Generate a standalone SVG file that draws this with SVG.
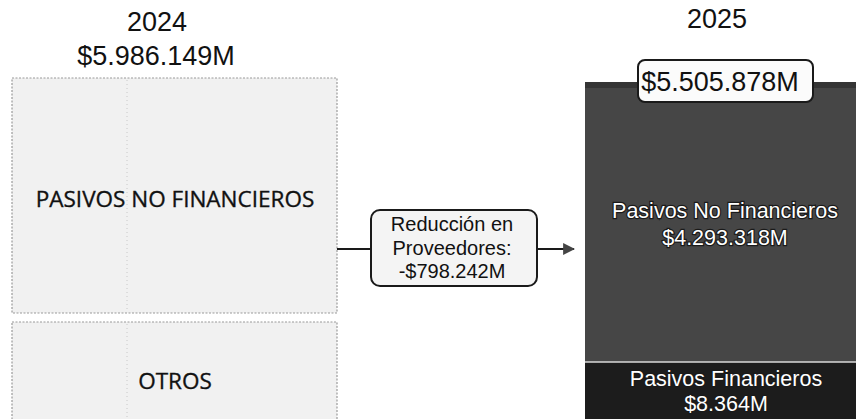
<svg xmlns="http://www.w3.org/2000/svg" width="856" height="419" viewBox="0 0 856 419">
<defs>
<style>
.hdr{font-family:"Liberation Sans",Arial,sans-serif;font-size:27px;fill:#111;text-anchor:middle}
.lbox{fill:#f1f1f1;stroke:#9a9a9a;stroke-width:1.2;stroke-dasharray:2 1.5}
.cal{font-family:"Open Sans","Noto Sans",sans-serif;font-size:22.5px;fill:#111;text-anchor:middle;stroke:#111;stroke-width:0.35}
.mid{font-family:"Liberation Sans",Arial,sans-serif;font-size:20px;fill:#111;text-anchor:middle}
.wt{font-family:"Liberation Sans",Arial,sans-serif;font-size:21.5px;fill:#fff;text-anchor:middle;stroke:#1a1a1a;stroke-width:2.4;paint-order:stroke}
.conn{stroke:#1a1a1a;stroke-width:2.2;fill:none}
</style>
<marker id="ah" viewBox="0 0 10 10" refX="9" refY="5" markerWidth="5.5" markerHeight="6" orient="auto" markerUnits="strokeWidth">
<path d="M0,0 L10,5 L0,10 z" fill="#444"/>
</marker>
</defs>
<rect width="856" height="419" fill="#fff"/>

<g id="header-2024">
<text class="hdr" x="157" y="31">2024</text>
<text class="hdr" x="156" y="65">$5.986.149M</text>
</g>
<g id="header-2025">
<text class="hdr" x="717" y="28">2025</text>
</g>

<g id="pasivos-no-financieros-2024">
<rect class="lbox" x="12" y="78" width="325" height="235"/>
<line x1="127" y1="80" x2="127" y2="311" stroke="#c8c8c8" stroke-width="1" stroke-dasharray="1 3"/>
<text class="cal" x="175" y="207">PASIVOS NO FINANCIEROS</text>
</g>

<g id="otros-2024">
<rect class="lbox" x="12" y="322" width="325" height="100"/>
<line x1="127" y1="324" x2="127" y2="419" stroke="#c8c8c8" stroke-width="1" stroke-dasharray="1 3"/>
<text class="cal" x="175" y="389">OTROS</text>
</g>

<g id="connectors">
<line class="conn" x1="337" y1="249" x2="371" y2="249"/>
<line class="conn" x1="537" y1="249" x2="574" y2="249" marker-end="url(#ah)"/>
</g>

<g id="reduccion">
<rect x="371" y="210" width="166" height="76" rx="9" fill="#f4f4f4" stroke="#1a1a1a" stroke-width="2"/>
<text class="mid" x="452" y="231">Reducción en</text>
<text class="mid" x="452" y="255">Proveedores:</text>
<text class="mid" x="452" y="278">-$798.242M</text>
</g>

<g id="total-2025">
<rect x="585" y="82" width="271" height="280" fill="#464646"/>
<rect x="585" y="82" width="271" height="6" fill="#353535"/>
</g>

<g id="pasivos-no-financieros-2025">
<text class="wt" x="725" y="218">Pasivos No Financieros</text>
<text class="wt" x="725" y="245">$4.293.318M</text>
</g>

<g id="pasivos-financieros-2025">
<rect x="585" y="362" width="271" height="57" fill="#1c1c1c"/>
<line x1="585" y1="362" x2="856" y2="362" stroke="#d8d8d8" stroke-width="1.5"/>
<text class="wt" x="726" y="386">Pasivos Financieros</text>
<text class="wt" x="726" y="411">$8.364M</text>
</g>

<g id="total-label-2025">
<rect x="638" y="60" width="175" height="42" rx="7" fill="#fbfbfb" stroke="#1a1a1a" stroke-width="2"/>
<text class="hdr" x="720" y="91">$5.505.878M</text>
</g>
</svg>
